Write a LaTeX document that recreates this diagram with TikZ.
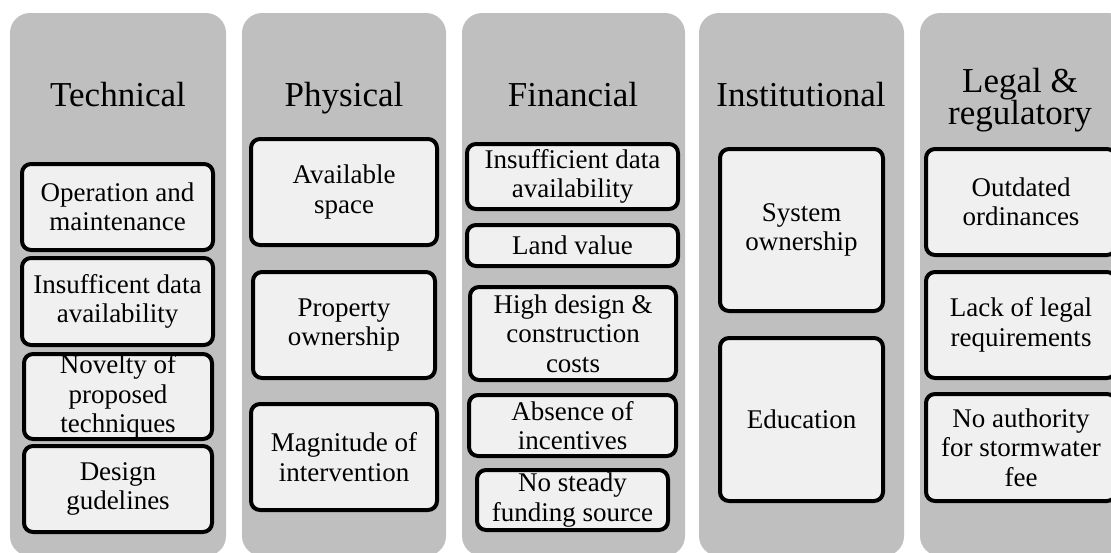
\documentclass[tikz,border=0pt]{standalone}
\usepackage{fontspec}
\setmainfont{Liberation Serif}
\definecolor{colgray}{HTML}{BFBFBF}
\definecolor{boxfill}{HTML}{F0F0F0}
\tikzset{
  colbox/.style={rectangle, rounded corners=20pt, fill=colgray, draw=none, inner sep=0pt},
  itembox/.style={rectangle, rounded corners=9pt, fill=boxfill, draw=black, line width=4pt, inner sep=0pt, align=center, font=\fontsize{27}{29.5}\selectfont},
  coltitle/.style={inner sep=0pt, align=center, font=\fontsize{35}{32}\selectfont}
}
\begin{document}
\begin{tikzpicture}[x=1pt,y=-1pt]
\useasboundingbox (0,0) rectangle (1111,552);
\clip (0,0) rectangle (1111,552);
% columns
\node[colbox, minimum width=216pt, minimum height=543pt] (c1) at (118,284.5) {};
\node[colbox, minimum width=204pt, minimum height=543pt] (c2) at (344,284.5) {};
\node[colbox, minimum width=223pt, minimum height=543pt] (c3) at (573.5,284.5) {};
\node[colbox, minimum width=205pt, minimum height=543pt] (c4) at (801.5,284.5) {};
\node[colbox, minimum width=208pt, minimum height=543pt] (c5) at (1024,284.5) {};
% titles
\node[coltitle, anchor=base] (t1) at (118,106) {Technical};
\node[coltitle, anchor=base] (t2) at (344,106) {Physical};
\node[coltitle, anchor=base] (t3) at (573,106) {Financial};
\node[coltitle, anchor=base] (t4) at (801,106) {Institutional};
\node[coltitle] (t5) at (1020,100) {Legal \&\\regulatory};
% column 1
\node[itembox, minimum width=191pt, minimum height=86pt] (a1) at (117.5,207) {Operation and\\maintenance};
\node[itembox, minimum width=191pt, minimum height=87pt] (a2) at (117.5,301.5) {Insufficent data\\availability};
\node[itembox, minimum width=188pt, minimum height=85pt] (a3) at (118,396.5) {Novelty of\\proposed\\techniques};
\node[itembox, minimum width=188pt, minimum height=86pt] (a4) at (118,489) {Design\\gudelines};
% column 2
\node[itembox, minimum width=186pt, minimum height=106pt] (b1) at (344,192) {Available\\space};
\node[itembox, minimum width=182pt, minimum height=106pt] (b2) at (344,325) {Property\\ownership};
\node[itembox, minimum width=186pt, minimum height=106pt] (b3) at (344,457) {Magnitude of\\intervention};
% column 3
\node[itembox, minimum width=211pt, minimum height=65pt] (f1) at (572.5,176.5) {Insufficient data\\availability};
\node[itembox, minimum width=211pt, minimum height=41pt] (f2) at (572.5,245.5) {Land value};
\node[itembox, minimum width=206pt, minimum height=93pt] (f3) at (573,333.5) {High design \&\\construction\\costs};
\node[itembox, minimum width=207pt, minimum height=61pt] (f4) at (572.5,425.5) {Absence of\\incentives};
\node[itembox, minimum width=191pt, minimum height=60pt] (f5) at (572.5,500) {No steady\\funding source};
% column 4
\node[itembox, minimum width=163pt, minimum height=162pt] (i1) at (801.5,230) {System\\ownership};
\node[itembox, minimum width=163pt, minimum height=163pt] (i2) at (801.5,419.5) {Education};
% column 5
\node[itembox, minimum width=190pt, minimum height=106pt] (l1) at (1021,202) {Outdated\\ordinances};
\node[itembox, minimum width=190pt, minimum height=106pt] (l2) at (1021,325) {Lack of legal\\requirements};
\node[itembox, minimum width=190pt, minimum height=107pt] (l3) at (1021,447.5) {No authority\\for stormwater\\fee};
\end{tikzpicture}
\end{document}
